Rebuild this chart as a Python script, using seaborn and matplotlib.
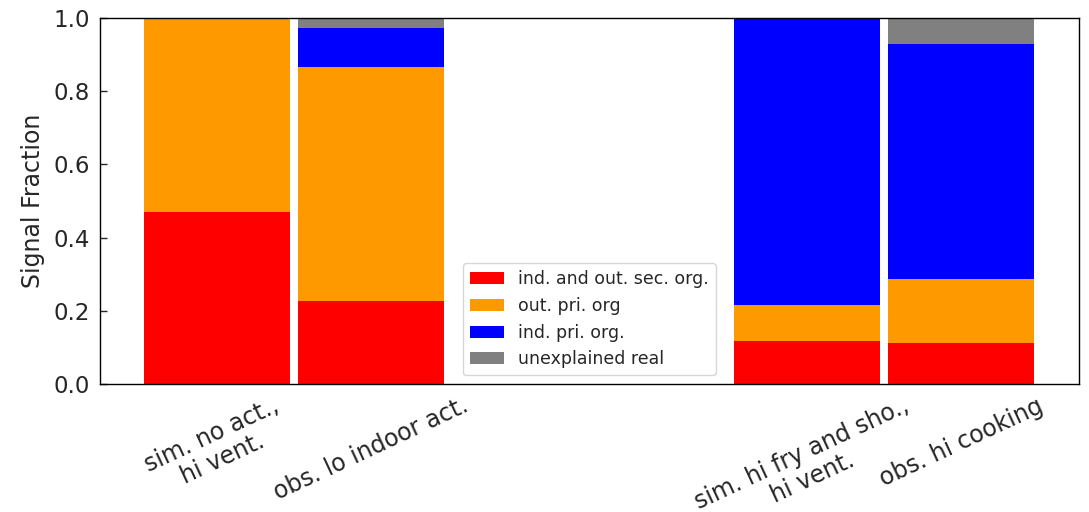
import matplotlib
matplotlib.use("Agg")
import matplotlib.pyplot as plt
from matplotlib.patches import Patch
import numpy as np
import pandas as pd
import seaborn as sns

# Scenario labels (two simulated, two observed) and their x positions
scenarios = ["sim. no act.,\nhi vent.", "obs. lo indoor act.",
             "sim. hi fry and sho.,\nhi vent.", "obs. hi cooking"]

# Signal fraction of each source class per scenario
sec_org = [0.469, 0.228, 0.117, 0.113]      # ind. and out. sec. org.
out_pri = [0.531, 0.638, 0.100, 0.173]      # out. pri. org
ind_pri = [0.000, 0.108, 0.783, 0.643]      # ind. pri. org.
unexplained = [0.000, 0.026, 0.000, 0.071]  # unexplained real

series_names = ["ind. and out. sec. org.", "out. pri. org",
                "ind. pri. org.", "unexplained real"]
series_colors = ["#ff0000", "#ff9900", "#0000ff", "#808080"]

sns.set_style("white")
plt.rcParams["font.family"] = ["DejaVu Sans"]

positions = np.array([0.0, 1.0, 3.84, 4.84])
layers = np.array([sec_org, out_pri, ind_pri, unexplained])
cumulative = np.cumsum(layers, axis=0)

fig, ax = plt.subplots(figsize=(10.89, 5.12), dpi=100)
fig.subplots_adjust(left=0.0918, right=0.9904, top=0.9648, bottom=0.25)

# Stack by drawing cumulative totals from the top layer down
for i in range(len(series_names) - 1, -1, -1):
    df = pd.DataFrame({"pos": positions, "value": cumulative[i]})
    sns.barplot(data=df, x="pos", y="value", native_scale=True,
                color=series_colors[i], saturation=1, width=0.95,
                errorbar=None, ax=ax, linewidth=0)

ax.set_ylim(0, 1.0)
ax.set_yticks(np.arange(0, 1.01, 0.2))
ax.set_yticklabels([f"{v:.1f}" for v in np.arange(0, 1.01, 0.2)])
ax.set_xticks(positions)
ax.set_xticklabels(scenarios, rotation=25, linespacing=1.1)
ax.set_xlabel("")
ax.set_ylabel("Signal Fraction", fontsize=17, labelpad=6)
ax.tick_params(axis="both", direction="in", length=5, width=1,
               bottom=True, left=True, top=False, right=False)
ax.tick_params(axis="y", pad=7, labelsize=16.5)
ax.tick_params(axis="x", pad=7, labelsize=17)

for sp in ax.spines.values():
    sp.set_visible(True)
    sp.set_color("black")
    sp.set_linewidth(1.0)

handles = [Patch(facecolor=c, edgecolor="none", label=n)
           for n, c in zip(series_names, series_colors)]
ax.legend(handles=handles, loc="lower center", fontsize=12.5, frameon=True)

fig.savefig("out.png", dpi=100)
